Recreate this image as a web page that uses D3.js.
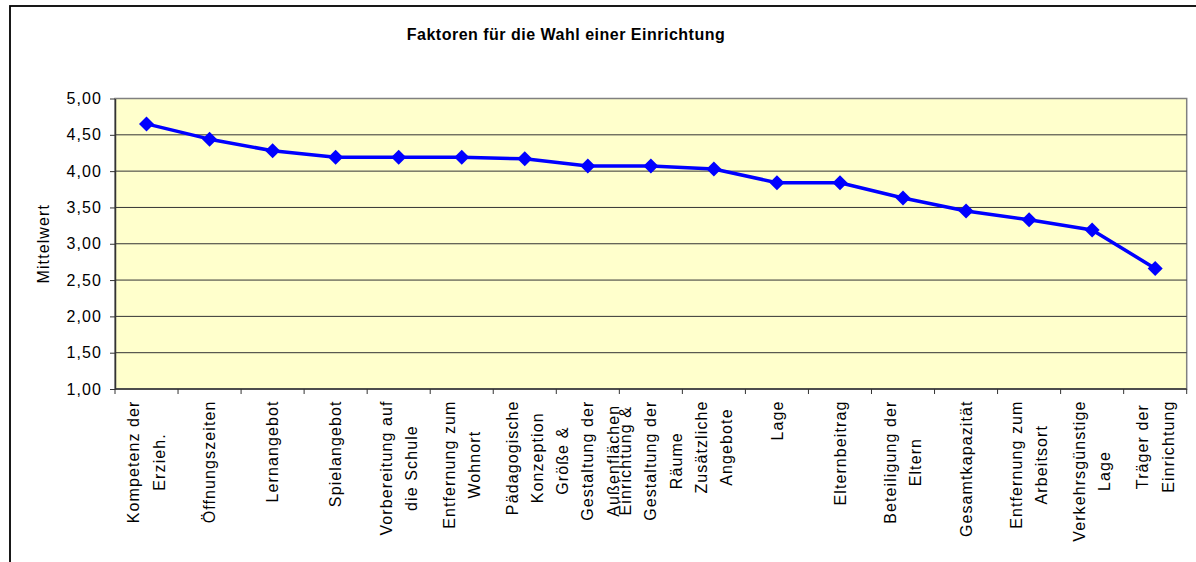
<!DOCTYPE html>
<html>
<head>
<meta charset="utf-8">
<script src="https://cdn.jsdelivr.net/npm/d3@7/dist/d3.min.js"></script>
<style>
  html, body { margin: 0; padding: 0; background: #fff; }
  svg { display: block; font-family: "Liberation Sans", Arial, sans-serif; }
  .lbl { font-size: 16px; letter-spacing: 1.1px; fill: #000; }
</style>
</head>
<body>
<svg id="chart" width="1196" height="562"></svg>
<script>
// Factors for choosing a childcare facility (mean ratings)
const categories = [
  "Kompetenz der\nErzieh.",
  "Öffnungszeiten",
  "Lernangebot",
  "Spielangebot",
  "Vorbereitung auf\ndie Schule",
  "Entfernung zum\nWohnort",
  "Pädagogische\nKonzeption",
  "Größe &\nGestaltung der\nAußenflächen",
  "Einrichtung &\nGestaltung der\nRäume",
  "Zusätzliche\nAngebote",
  "Lage",
  "Elternbeitrag",
  "Beteiligung der\nEltern",
  "Gesamtkapazität",
  "Entfernung zum\nArbeitsort",
  "Verkehrsgünstige\nLage",
  "Träger der\nEinrichtung"
];
const values = [4.65, 4.44, 4.28, 4.19, 4.19, 4.19, 4.17, 4.07, 4.07, 4.03,
                3.84, 3.84, 3.63, 3.45, 3.33, 3.19, 2.66];
const yTicks = [1.0, 1.5, 2.0, 2.5, 3.0, 3.5, 4.0, 4.5, 5.0];
const title = "Faktoren für die Wahl einer Einrichtung";
const yTitle = "Mittelwert";

const svg = d3.select("#chart");
const plot = { left: 115, right: 1186.7, top: 98.5, bottom: 389 };

const deLocale = d3.formatLocale({ decimal: ",", thousands: ".", grouping: [3], currency: ["", " €"] });
const fmt = deLocale.format(".2f");

const x = d3.scaleBand().domain(d3.range(categories.length))
  .range([plot.left, plot.right]).paddingInner(0).paddingOuter(0);
const y = d3.scaleLinear().domain([1, 5]).range([plot.bottom, plot.top]);

// outer chart frame
svg.append("rect")
  .attr("x", 10).attr("y", 6).attr("width", 1300).attr("height", 700)
  .attr("fill", "#fff").attr("stroke", "#000").attr("stroke-width", 1.8);

// title
svg.append("text")
  .attr("x", 566).attr("y", 40)
  .attr("text-anchor", "middle")
  .style("font-size", "16px").style("font-weight", "bold").style("letter-spacing", "0.5px")
  .text(title);

// plot background
svg.append("rect")
  .attr("x", plot.left).attr("y", plot.top)
  .attr("width", plot.right - plot.left).attr("height", plot.bottom - plot.top)
  .attr("fill", "#FFFFCC").attr("stroke", "#808080").attr("stroke-width", 1.5);

// horizontal gridlines
svg.append("g").selectAll("line")
  .data(yTicks.filter(d => d > 1 && d < 5))
  .join("line")
  .attr("x1", plot.left).attr("x2", plot.right)
  .attr("y1", d => y(d)).attr("y2", d => y(d))
  .attr("stroke", "#333").attr("stroke-width", 1);

// y axis
const yAxis = svg.append("g")
  .attr("transform", `translate(${plot.left},0)`)
  .call(d3.axisLeft(y).tickValues(yTicks).tickFormat(fmt).tickSizeInner(5).tickSizeOuter(0).tickPadding(8));
yAxis.select(".domain").attr("stroke", "#333").attr("stroke-width", 1.5);
yAxis.selectAll(".tick line").attr("stroke", "#333");
yAxis.selectAll("text").attr("class", "lbl").attr("font-family", null).attr("font-size", null);

// y axis title
svg.append("text")
  .attr("class", "lbl")
  .attr("transform", `translate(49,${(plot.top + plot.bottom) / 2}) rotate(-90)`)
  .attr("text-anchor", "middle")
  .text(yTitle);

// x axis line and ticks at category boundaries
const xAxisG = svg.append("g");
xAxisG.append("line")
  .attr("x1", plot.left).attr("x2", plot.right)
  .attr("y1", plot.bottom).attr("y2", plot.bottom)
  .attr("stroke", "#333").attr("stroke-width", 1.5);
const bounds = d3.range(categories.length + 1).map(i =>
  i < categories.length ? x(i) : x(i - 1) + x.bandwidth());
xAxisG.selectAll(".xt").data(bounds).join("line")
  .attr("class", "xt")
  .attr("x1", d => d).attr("x2", d => d)
  .attr("y1", plot.bottom).attr("y2", plot.bottom + 5)
  .attr("stroke", "#333");

// category labels, rotated, multi-line, top-aligned block
const lineGap = 25.5;
const labelTop = 400.5;
categories.forEach((c, i) => {
  const lines = c.split("\n");
  const cx = x(i) + x.bandwidth() / 2;
  const g = svg.append("g");
  const texts = lines.map((t, j) => g.append("text")
    .attr("class", "lbl")
    .attr("text-anchor", "middle")
    .attr("dy", "0.35em")
    .text(t));
  const maxLen = d3.max(texts, t => t.node().getComputedTextLength());
  const cy = labelTop + maxLen / 2;
  texts.forEach((t, j) => {
    const lx = cx + (j - (lines.length - 1) / 2) * lineGap;
    t.attr("transform", `translate(${lx},${cy}) rotate(-90)`);
  });
});

// data line
const line = d3.line()
  .x((d, i) => x(i) + x.bandwidth() / 2)
  .y(d => y(d));
svg.append("path")
  .datum(values)
  .attr("d", line)
  .attr("fill", "none")
  .attr("stroke", "#0000FF")
  .attr("stroke-width", 3.5)
  .attr("stroke-linejoin", "round");

// diamond markers
const r = 7.5;
svg.append("g").selectAll("path")
  .data(values)
  .join("path")
  .attr("transform", (d, i) => `translate(${x(i) + x.bandwidth() / 2},${y(d)})`)
  .attr("d", `M0,${-r}L${r},0L0,${r}L${-r},0Z`)
  .attr("fill", "#0000FF");
</script>
</body>
</html>
